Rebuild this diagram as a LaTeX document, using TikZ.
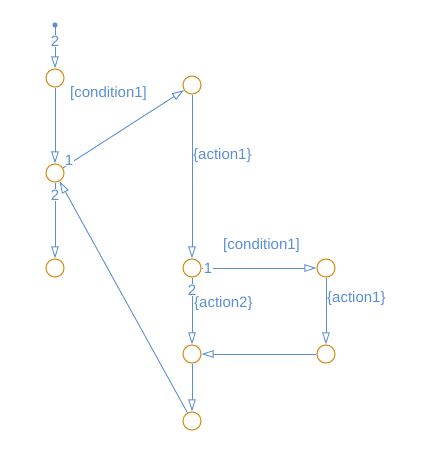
\documentclass[tikz,border=0pt]{standalone}
\usepackage{fontspec}
\setmainfont{Liberation Sans}
\usetikzlibrary{arrows.meta}
\definecolor{wire}{HTML}{5B8FD2}
\definecolor{junc}{HTML}{D8901E}
\begin{document}
\begin{tikzpicture}[x=1pt,y=-1pt,
  junction/.style={circle,draw=junc,line width=1.1pt,minimum size=18pt,inner sep=0pt},
  trans/.style={draw=wire,line width=0.9pt,-{Triangle[open,length=12pt,width=7.5pt]}},
  lbl/.style={text=wire,font=\fontsize{15}{16}\selectfont,inner sep=0pt,anchor=west},
  order/.style={text=wire,font=\fontsize{15}{16}\selectfont,inner sep=1pt,fill=white}]
\useasboundingbox (0,0) rectangle (434,469);
% junctions
\node[junction] (A) at (55,78) {};
\node[junction] (B) at (192,85) {};
\node[junction] (C) at (55,173) {};
\node[junction] (D) at (55,268) {};
\node[junction] (E) at (192,268) {};
\node[junction] (F) at (326,268) {};
\node[junction] (G) at (192,354) {};
\node[junction] (H) at (326,354) {};
\node[junction] (I) at (192,421) {};
% default transition
\fill[wire] (55,25) circle (2.6pt);
\coordinate (start) at (55,27);
\draw[trans] (start) -- (A);
\node[order] at (55,41) {2};
% transitions
\draw[trans] (A) -- (C);
\draw[trans] (C) -- (B);
\draw[trans] (B) -- (E);
\draw[trans] (C) -- (D);
\draw[trans] (E) -- (F);
\draw[trans] (E) -- (G);
\draw[trans] (F) -- (H);
\draw[trans] (H) -- (G);
\draw[trans] (G) -- (I);
\draw[trans] (I) -- (C);
% execution order
\node[order] at (69,160) {1};
\node[order] at (55,195) {2};
\node[order] at (208,268) {1};
\node[order] at (192,290) {2};
% labels
\node[lbl] at (70,94) {[condition1]};
\node[lbl] at (193,156) {\{action1\}};
\node[lbl] at (223,246) {[condition1]};
\node[lbl] at (327,299) {\{action1\}};
\node[lbl] at (194,304) {\{action2\}};
\end{tikzpicture}
\end{document}
